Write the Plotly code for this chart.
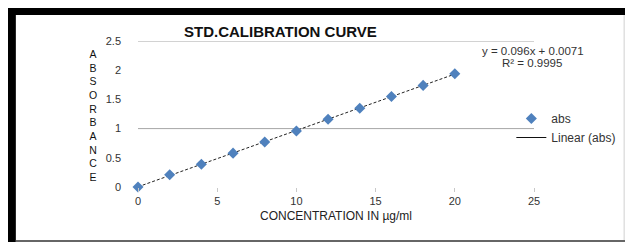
import numpy as np
import plotly.graph_objects as go

# ---- data ----
concentration = [0, 2, 4, 6, 8, 10, 12, 14, 16, 18, 20]
absorbance = [0.0, 0.21, 0.39, 0.58, 0.77, 0.96, 1.16, 1.35, 1.55, 1.74, 1.94]
x_ticks = [0, 5, 10, 15, 20, 25]
y_ticks = [0, 0.5, 1, 1.5, 2, 2.5]
y_tick_text = ["0", "0.5", "1", "1.5", "2", "2.5"]
grid_values = [1, 2.5]
title_text = "STD.CALIBRATION CURVE"
x_title = "CONCENTRATION IN µg/ml"
y_title = "ABSORBANCE"
equation_text = "y = 0.096x + 0.0071"
r2_text = "R² = 0.9995"
series_name = "abs"
trend_name = "Linear (abs)"

# page body has an 8px margin; figure sized to fit the 633x242 window
OFF = 8
W, H = 633 - OFF, 242 - OFF
# plot area in window pixels
L, R, T, B = 138, 540, 41, 187


def px(xw):
    return (xw - L) / (R - L)


def py(yw):
    return (B - yw) / (B - T)


slope, intercept = np.polyfit(concentration, absorbance, 1)
trend_x = [min(concentration), max(concentration)]
trend_y = [slope * v + intercept for v in trend_x]

font = "Liberation Sans"

fig = go.Figure()
fig.add_trace(go.Scatter(
    x=trend_x, y=trend_y, mode="lines",
    line=dict(color="#222222", width=1, dash="3px,2px"),
    showlegend=False, hoverinfo="skip", cliponaxis=False))
fig.add_trace(go.Scatter(
    x=concentration, y=absorbance, mode="markers", name=series_name,
    marker=dict(symbol="diamond", size=8.5, color="#4f81bd",
                line=dict(width=0)),
    cliponaxis=False))
fig.add_trace(go.Scatter(
    x=[None], y=[None], mode="lines", name=trend_name,
    line=dict(color="#111111", width=1)))

shapes = []
for g in grid_values:
    shapes.append(dict(type="line", xref="paper", yref="y", x0=0, x1=1,
                       y0=g, y1=g, line=dict(color="#a6a6a6", width=1),
                       layer="below"))
# frame decorations (window pixel positions)
shapes.append(dict(type="rect", xref="paper", yref="paper",
                   x0=px(0), x1=px(14), y0=py(260), y1=py(0),
                   fillcolor="black", line=dict(width=0)))
shapes.append(dict(type="rect", xref="paper", yref="paper",
                   x0=px(0), x1=px(650), y0=py(15), y1=py(0),
                   fillcolor="black", line=dict(width=0)))
shapes.append(dict(type="rect", xref="paper", yref="paper",
                   x0=px(14), x1=px(650), y0=py(260), y1=py(240),
                   fillcolor="#666666", line=dict(width=0)))
shapes.append(dict(type="line", xref="paper", yref="paper",
                   x0=px(631.5), x1=px(631.5), y0=py(240), y1=py(15),
                   line=dict(color="#d0d0d0", width=1)))

annotations = [
    dict(text="<b>" + title_text + "</b>", xref="paper", yref="paper",
         x=px(283), y=py(32), xanchor="center", yanchor="middle",
         showarrow=False, font=dict(family=font, size=15, color="#111111")),
    dict(text="<br>".join(list(y_title)), xref="paper", yref="paper",
         x=px(92), y=py(115), xanchor="center", yanchor="middle",
         showarrow=False, font=dict(family=font, size=10.5, color="#111111")),
    dict(text=equation_text, xref="paper", yref="paper",
         x=px(539), y=py(51), xanchor="center", yanchor="middle",
         showarrow=False, font=dict(family=font, size=11.5, color="#333333")),
    dict(text=r2_text, xref="paper", yref="paper",
         x=px(538), y=py(63), xanchor="center", yanchor="middle",
         showarrow=False, font=dict(family=font, size=11.5, color="#333333")),
]

fig.update_layout(
    width=W, height=H,
    margin=dict(l=L - OFF, r=W - (R - OFF), t=T - OFF, b=H - (B - OFF), pad=0),
    paper_bgcolor="white", plot_bgcolor="white",
    font=dict(family=font, size=10, color="#333333"),
    showlegend=True,
    legend=dict(x=px(517), y=py(104), xanchor="left", yanchor="top",
                bgcolor="rgba(0,0,0,0)", font=dict(size=12, color="#333333"),
                itemwidth=30, tracegroupgap=0),
    shapes=shapes,
    annotations=annotations,
    xaxis=dict(range=[0, 25], tickvals=x_ticks, ticks="outside", ticklen=4,
               tickcolor="#c8c8c8", showgrid=False, zeroline=False,
               showline=False, tickfont=dict(size=11, color="#333333"),
               title=dict(text=x_title, standoff=5,
                          font=dict(size=12, color="#222222"))),
    yaxis=dict(range=[0, 2.5], tickvals=y_ticks, ticktext=y_tick_text,
               ticks="", showgrid=False, zeroline=False, showline=False,
               tickfont=dict(size=11, color="#333333"),
               ticklabelstandoff=16),
)

fig.write_html("out.html")
